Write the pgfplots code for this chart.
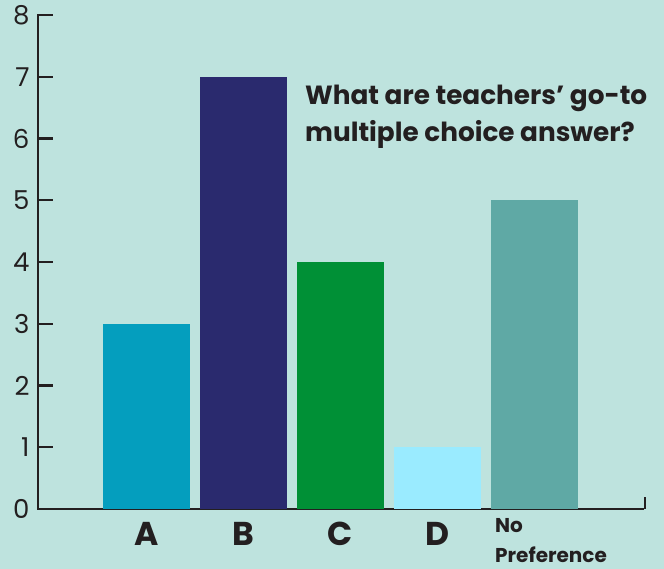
\documentclass[border=0pt]{standalone}
\usepackage{pgfplots}
\pgfplotsset{compat=1.18}
\usepackage{fontspec}
\setmainfont{Poppins}
\definecolor{bgc}{RGB}{190,227,222}
\definecolor{axc}{RGB}{35,31,32}
\definecolor{cA}{RGB}{4,158,190}
\definecolor{cB}{RGB}{42,42,110}
\definecolor{cC}{RGB}{0,144,54}
\definecolor{cD}{RGB}{154,235,255}
\definecolor{cN}{RGB}{95,169,165}
\begin{document}
\begin{tikzpicture}[x=1pt,y=1pt]
\fill[bgc] (0,0) rectangle (664,569);
\useasboundingbox (0,0) rectangle (664,569);
\begin{axis}[
  at={(38pt,60pt)}, anchor=south west,
  scale only axis, width=605pt, height=494pt,
  xmin=-1.1186, xmax=5.1186, ymin=0, ymax=8,
  axis lines*=left,
  axis line style={line width=2.2pt, color=axc, line cap=rect},
  xtick=\empty,
  ytick={0,1,2,3,4,5,6,7,8},
  tick align=inside,
  major tick length=15pt,
  ytick style={line width=2.2pt, color=axc},
  /pgf/number format/assume math mode=true,
  yticklabel style={font=\fontsize{26}{26}\selectfont, text=axc, xshift=-5pt},
  clip=false,
]
\addplot[ybar, bar width=87pt, fill=cA, draw=none] coordinates {(0,3)};
\addplot[ybar, bar width=87pt, fill=cB, draw=none] coordinates {(1,7)};
\addplot[ybar, bar width=87pt, fill=cC, draw=none] coordinates {(2,4)};
\addplot[ybar, bar width=87pt, fill=cD, draw=none] coordinates {(3,1)};
\addplot[ybar, bar width=87pt, fill=cN, draw=none] coordinates {(4,5)};
\draw[line width=2.2pt, color=axc] ([xshift=2pt]rel axis cs:1,0) -- ++(0pt,12pt);
\node[anchor=base, font=\bfseries\fontsize{33}{33}\selectfont, text=axc] at (axis cs:0,0) [yshift=-37pt] {A};
\node[anchor=base, font=\bfseries\fontsize{33}{33}\selectfont, text=axc] at (axis cs:1,0) [yshift=-37pt] {B};
\node[anchor=base, font=\bfseries\fontsize{33}{33}\selectfont, text=axc] at (axis cs:2,0) [yshift=-37pt] {C};
\node[anchor=base, font=\bfseries\fontsize{33}{33}\selectfont, text=axc] at (axis cs:3,0) [yshift=-37pt] {D};
\end{axis}
\node[anchor=base west, inner sep=0pt, font=\bfseries\fontsize{20}{20}\selectfont, text=axc] at (495,36) {No};
\node[anchor=base west, inner sep=0pt, font=\bfseries\fontsize{20}{20}\selectfont, text=axc] at (495,6) {Preference};
\node[anchor=base west, inner sep=0pt, font=\bfseries\fontsize{26.3}{26}\selectfont, text=axc] at (305,464) {What are teachers’ go-to};
\node[anchor=base west, inner sep=0pt, font=\bfseries\fontsize{26.3}{26}\selectfont, text=axc] at (305,427) {multiple choice answer?};
\end{tikzpicture}
\end{document}
